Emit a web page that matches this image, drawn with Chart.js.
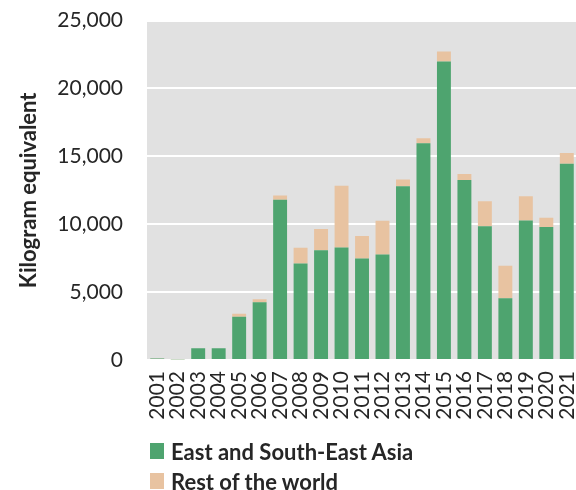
<!DOCTYPE html>
<html>
<head>
<meta charset="utf-8">
<script src="https://cdn.jsdelivr.net/npm/chart.js@4/dist/chart.umd.min.js"></script>
<style>
  html, body { margin: 0; padding: 0; background: #fff; }
  #wrap { position: relative; width: 576px; height: 490px; overflow: hidden; }
  #chart { position: absolute; left: 0; top: -16px; }
  #legend { position: absolute; left: 150px; top: 436px; font-family: Lato, sans-serif; font-weight: bold; font-size: 22px; color: #262626; }
  #legend div { display: flex; align-items: center; height: 30px; }
  #legend span.box { display: inline-block; width: 14px; height: 16px; margin-right: 7px; }
</style>
</head>
<body>
<div id="wrap">
  <canvas id="chart" width="595" height="506"></canvas>
  <div id="legend"></div>
</div>
<script>
const years = ['2001','2002','2003','2004','2005','2006','2007','2008','2009','2010','2011',
  '2012','2013','2014','2015','2016','2017','2018','2019','2020','2021'];
const eastAsia = [110, 50, 870, 870, 3180, 4250, 11810, 7100, 8080, 8280, 7470,
  7770, 12790, 15960, 21990, 13260, 9850, 4550, 10270, 9800, 14460];
const restOfWorld = [20, 30, 0, 0, 220, 220, 300, 1160, 1570, 4560, 1670,
  2480, 510, 370, 740, 440, 1840, 2400, 1790, 680, 790];
const yTicks = [0, 5000, 10000, 15000, 20000, 25000];

const GREEN = '#4EA46F';
const BEIGE = '#E8C3A1';

// grey plot background
const plotBg = {
  id: 'plotBg',
  beforeDraw(chart) {
    const { ctx, chartArea: a } = chart;
    ctx.save();
    ctx.fillStyle = '#E1E1E1';
    ctx.fillRect(a.left, a.top, a.right - a.left, a.bottom - a.top);
    ctx.restore();
  }
};

const chart = new Chart(document.getElementById('chart'), {
  type: 'bar',
  data: {
    labels: years,
    datasets: [
      { label: 'East and South-East Asia', data: eastAsia, backgroundColor: GREEN },
      { label: 'Rest of the world', data: restOfWorld, backgroundColor: BEIGE }
    ]
  },
  options: {
    responsive: false,
    animation: false,
    layout: { padding: { top: 5, right: 0, left: 0, bottom: 0 } },
    plugins: { legend: { display: false }, tooltip: { enabled: false } },
    datasets: { bar: { barPercentage: 0.68, categoryPercentage: 1 } },
    scales: {
      x: {
        stacked: true,
        grid: { display: false },
        border: { display: false },
        ticks: {
          minRotation: 90, maxRotation: 90, padding: 3, autoSkip: false,
          color: '#262626', font: { family: 'Lato', size: 21 }
        },
        afterFit(scale) { scale.height = 130; }
      },
      y: {
        stacked: true,
        min: 0, max: 25000,
        afterBuildTicks(scale) { scale.ticks = yTicks.map(v => ({ value: v })); },
        grid: { color: '#FFFFFF', lineWidth: 2, drawTicks: false },
        border: { display: false },
        ticks: {
          padding: 24, color: '#262626', font: { family: 'Lato', size: 21 },
          callback: v => v.toLocaleString('en-US')
        },
        title: {
          display: true, text: 'Kilogram equivalent', color: '#262626',
          font: { family: 'Lato', size: 22, weight: 'bold' }, padding: { top: 16, bottom: 4 }
        },
        afterFit(scale) { scale.width = 147; }
      }
    }
  },
  plugins: [plotBg]
});

document.getElementById('legend').innerHTML = chart.data.datasets.map(ds =>
  `<div><span class="box" style="background:${ds.backgroundColor}"></span>${ds.label}</div>`
).join('');
</script>
</body>
</html>
